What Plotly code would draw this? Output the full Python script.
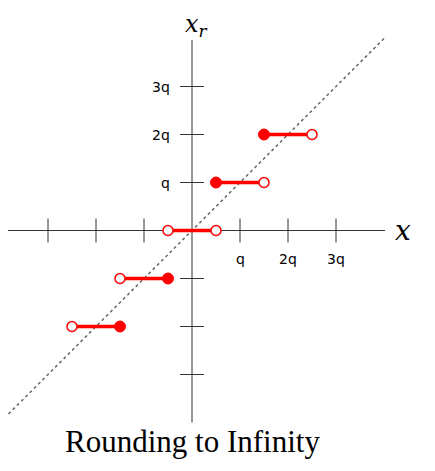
import plotly.graph_objects as go

# data (units of q)
levels = [-2, -1, 0, 1, 2]
seg_start = [-2.5, -1.5, -0.5, 0.5, 1.5]
seg_end = [-1.5, -0.5, 0.5, 1.5, 2.5]
start_closed = [False, False, False, True, True]
end_closed = [True, True, False, False, False]
x_ticks = [-3, -2, -1, 1, 2, 3]
y_ticks = [-3, -2, -1, 1, 2, 3]
x_tick_labels = {1: "q", 2: "2q", 3: "3q"}
y_tick_labels = {1: "q", 2: "2q", 3: "3q"}
diag_x = [-4.0, 4.02]
axis_min, axis_max = -4.0, 4.02

# page body has an 8px margin
W, H = 427, 463
ox, oy, s = 184, 222.5, 48.0
xr = [-ox / s, (W - ox) / s]
yr = [-(H - oy) / s, oy / s]

red = "#ff0000"
fig = go.Figure()

# diagonal
fig.add_trace(go.Scatter(x=diag_x, y=diag_x, mode="lines",
                         line=dict(color="#666666", width=1.5, dash="dot"),
                         hoverinfo="skip"))
# axes
fig.add_trace(go.Scatter(x=[axis_min, axis_max], y=[0, 0], mode="lines",
                         line=dict(color="#333333", width=1), hoverinfo="skip"))
fig.add_trace(go.Scatter(x=[0, 0], y=[axis_min, axis_max - 0.05], mode="lines",
                         line=dict(color="#333333", width=1), hoverinfo="skip"))
tl = 0.25
for t in x_ticks:
    fig.add_trace(go.Scatter(x=[t, t], y=[-tl, tl], mode="lines",
                             line=dict(color="#333333", width=1), hoverinfo="skip"))
for t in y_ticks:
    fig.add_trace(go.Scatter(x=[-tl, tl], y=[t, t], mode="lines",
                             line=dict(color="#333333", width=1), hoverinfo="skip"))

# segments
for lv, a, b in zip(levels, seg_start, seg_end):
    fig.add_trace(go.Scatter(x=[a, b], y=[lv, lv], mode="lines",
                             line=dict(color=red, width=3.5), hoverinfo="skip"))

cx, cy, ox_, oy_ = [], [], [], []
for lv, a, b, sc, ec in zip(levels, seg_start, seg_end, start_closed, end_closed):
    (cx if sc else ox_).append(a); (cy if sc else oy_).append(lv)
    (cx if ec else ox_).append(b); (cy if ec else oy_).append(lv)

fig.add_trace(go.Scatter(x=ox_, y=oy_, mode="markers",
                         marker=dict(size=10, color="white", line=dict(color=red, width=1.5))))
fig.add_trace(go.Scatter(x=cx, y=cy, mode="markers",
                         marker=dict(size=11, color=red, line=dict(color=red, width=1))))

ann = []
for t, lab in x_tick_labels.items():
    ann.append(dict(x=t, y=-0.6, text=lab, showarrow=False, xanchor="center", yanchor="middle",
                    font=dict(family="DejaVu Sans", size=14, color="black")))
for t, lab in y_tick_labels.items():
    ann.append(dict(x=-0.42, y=t, text=lab, showarrow=False, xanchor="right", yanchor="middle",
                    font=dict(family="DejaVu Sans", size=14, color="black")))
ann.append(dict(x=0.1, y=4.27, text="<i>x<sub>r</sub></i>", showarrow=False, xanchor="center",
                yanchor="middle", font=dict(family="DejaVu Serif", size=24, color="black")))
ann.append(dict(x=4.4, y=0.0, text="<i>x</i>", showarrow=False, xanchor="center",
                yanchor="middle", font=dict(family="DejaVu Serif", size=28, color="black")))
ann.append(dict(x=0.0, y=-4.4, text="Rounding to Infinity", showarrow=False, xanchor="center",
                yanchor="middle", font=dict(family="Liberation Serif", size=31, color="black")))

fig.update_layout(
    width=W, height=H, margin=dict(l=0, r=0, t=0, b=0),
    paper_bgcolor="white", plot_bgcolor="white", showlegend=False,
    xaxis=dict(range=xr, visible=False, showgrid=False, zeroline=False),
    yaxis=dict(range=yr, visible=False, showgrid=False, zeroline=False),
    annotations=ann,
)
fig.write_html("out.html")
